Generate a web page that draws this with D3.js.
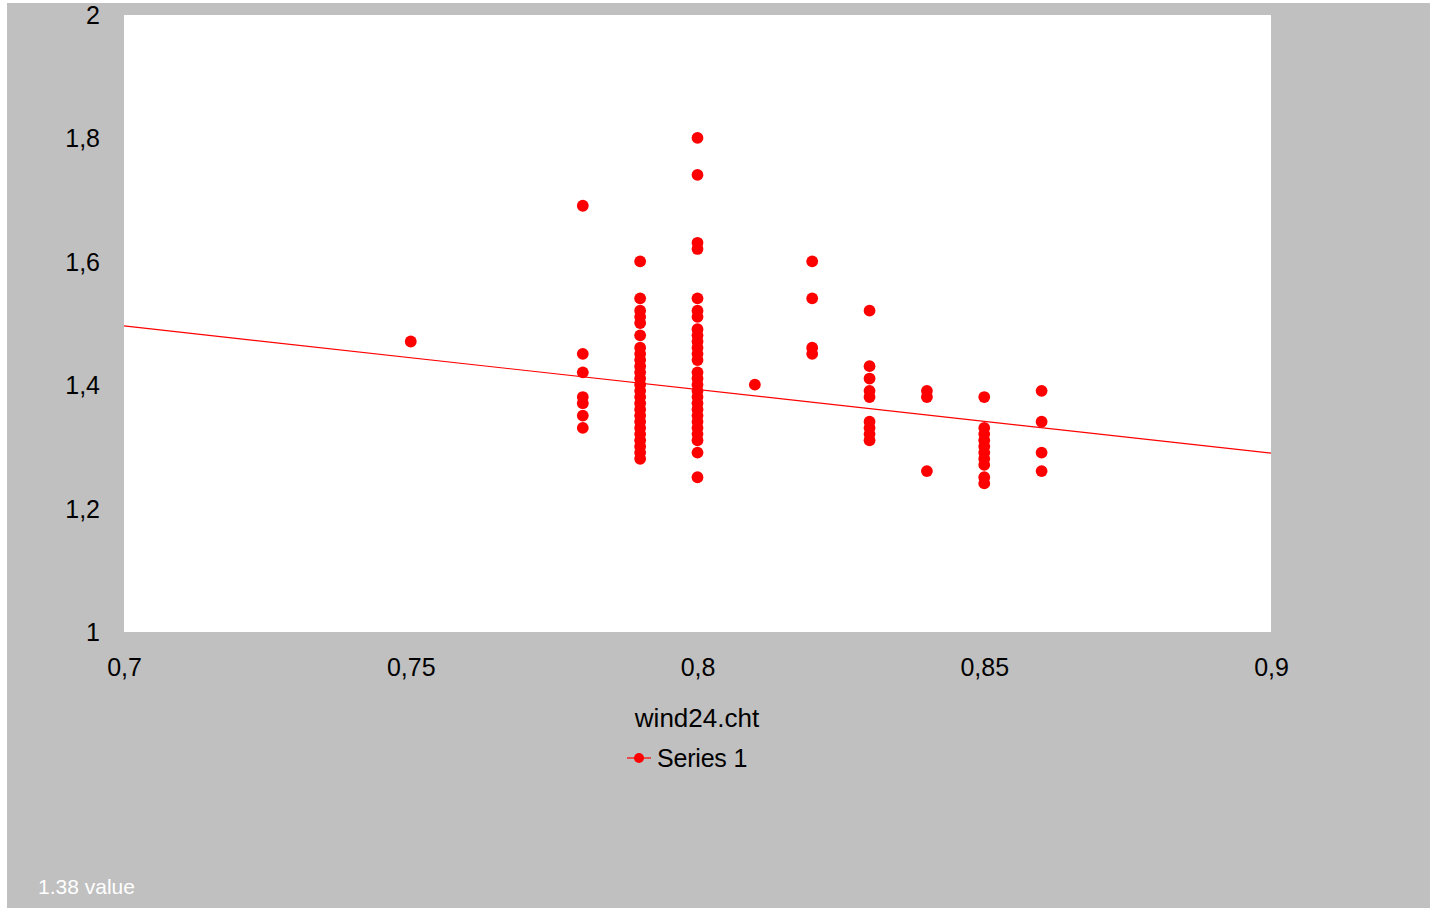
<!DOCTYPE html>
<html>
<head>
<meta charset="utf-8">
<script src="https://cdn.jsdelivr.net/npm/d3@7/dist/d3.min.js"></script>
<style>
  html, body { margin: 0; padding: 0; background: #ffffff; }
  svg { display: block; }
  text { font-family: "Liberation Sans", Arial, Helvetica, sans-serif; }
</style>
</head>
<body>
<script>
// wind24.cht — scatter of measured values grouped by x, with linear trend
const xTicks = [0.7, 0.75, 0.8, 0.85, 0.9];
const xTickLabels = ["0,7", "0,75", "0,8", "0,85", "0,9"];
const yTicks = [1, 1.2, 1.4, 1.6, 1.8, 2];
const yTickLabels = ["1", "1,2", "1,4", "1,6", "1,8", "2"];

// observations, one array per x value
const col075 = [1.47];
const col078 = [1.69, 1.45, 1.42, 1.38, 1.37, 1.35, 1.33];
const col079 = [1.60, 1.54, 1.52, 1.51, 1.50, 1.48,
                1.46, 1.45, 1.44, 1.43, 1.42, 1.41, 1.40, 1.39, 1.38, 1.37,
                1.36, 1.35, 1.34, 1.33, 1.32, 1.31, 1.30, 1.29, 1.28];
const col080 = [1.80, 1.74, 1.63, 1.62, 1.54, 1.52, 1.51,
                1.49, 1.48, 1.47, 1.46, 1.45, 1.44,
                1.42, 1.41, 1.40, 1.39, 1.38, 1.37, 1.36, 1.35, 1.34, 1.33, 1.32, 1.31,
                1.29, 1.25];
const col081 = [1.40];
const col082 = [1.60, 1.54, 1.46, 1.45];
const col083 = [1.52, 1.43, 1.41, 1.39, 1.38, 1.34, 1.33, 1.32, 1.31];
const col084 = [1.39, 1.38, 1.26];
const col085 = [1.38, 1.33, 1.32, 1.31, 1.30, 1.29, 1.28, 1.27, 1.25, 1.24];
const col086 = [1.39, 1.34, 1.29, 1.26];

const xGroups = [0.75, 0.78, 0.79, 0.80, 0.81, 0.82, 0.83, 0.84, 0.85, 0.86];
const yGroups = [col075, col078, col079, col080, col081, col082, col083, col084, col085, col086];

// fitted trend line endpoints
const trendX = [0.7, 0.9];
const trendY = [1.496, 1.290];

const seriesName = "Series 1";
const xTitle = "wind24.cht";
const footnote = "1.38 value";

const points = [];
xGroups.forEach((x, i) => yGroups[i].forEach(y => points.push({ x, y })));

const W = 1438, H = 908;
const plot = { left: 124, top: 15, right: 1271, bottom: 632 };

const svg = d3.select("body").append("svg").attr("width", W).attr("height", H);

// panel background
svg.append("rect").attr("x", 7).attr("y", 3).attr("width", 1423).attr("height", H - 3)
  .attr("fill", "#c0c0c0");
svg.append("rect").attr("x", plot.left).attr("y", plot.top)
  .attr("width", plot.right - plot.left).attr("height", plot.bottom - plot.top)
  .attr("fill", "#ffffff");

const x = d3.scaleLinear().domain([0.7, 0.9]).range([plot.left, plot.right]);
const y = d3.scaleLinear().domain([1, 2]).range([plot.bottom, plot.top]);

// y axis labels
const yAxis = d3.axisLeft(y).tickValues(yTicks)
  .tickFormat((d, i) => yTickLabels[i]).tickSize(0).tickPadding(0);
const gy = svg.append("g").attr("transform", `translate(100,0)`).call(yAxis);
gy.select(".domain").remove();
gy.selectAll("text").attr("font-size", 25).attr("fill", "#000")
  .attr("font-family", '"Liberation Sans", Arial, sans-serif')
  .attr("dy", "0.34em");

// x axis labels
const xAxis = d3.axisBottom(x).tickValues(xTicks)
  .tickFormat((d, i) => xTickLabels[i]).tickSize(0).tickPadding(0);
const gx = svg.append("g").attr("transform", `translate(0,658)`).call(xAxis);
gx.select(".domain").remove();
gx.selectAll("text").attr("font-size", 25).attr("fill", "#000")
  .attr("font-family", '"Liberation Sans", Arial, sans-serif')
  .attr("dy", "0.71em");

// trend line
svg.append("path")
  .datum(trendX.map((v, i) => [v, trendY[i]]))
  .attr("d", d3.line().x(d => x(d[0])).y(d => y(d[1])))
  .attr("fill", "none").attr("stroke", "#ff0000").attr("stroke-width", 1.2);

// data points
svg.append("g").selectAll("circle").data(points).join("circle")
  .attr("cx", d => x(d.x)).attr("cy", d => y(d.y) - 0.5).attr("r", 5.9)
  .attr("fill", "#ff0000");

// axis title
svg.append("text").attr("x", 697).attr("y", 727).attr("text-anchor", "middle")
  .attr("font-size", 26).attr("fill", "#000").text(xTitle);

// legend
const lg = svg.append("g");
lg.append("line").attr("x1", 627).attr("x2", 651).attr("y1", 758).attr("y2", 758)
  .attr("stroke", "#ff0000").attr("stroke-width", 1.2);
lg.append("circle").attr("cx", 639).attr("cy", 758).attr("r", 5).attr("fill", "#ff0000");
lg.append("text").attr("x", 657).attr("y", 767).attr("font-size", 25)
  .attr("letter-spacing", -0.2).attr("fill", "#000").text(seriesName);

// footnote
svg.append("text").attr("x", 38).attr("y", 894).attr("font-size", 21)
  .attr("fill", "#ffffff").text(footnote);
</script>
</body>
</html>
